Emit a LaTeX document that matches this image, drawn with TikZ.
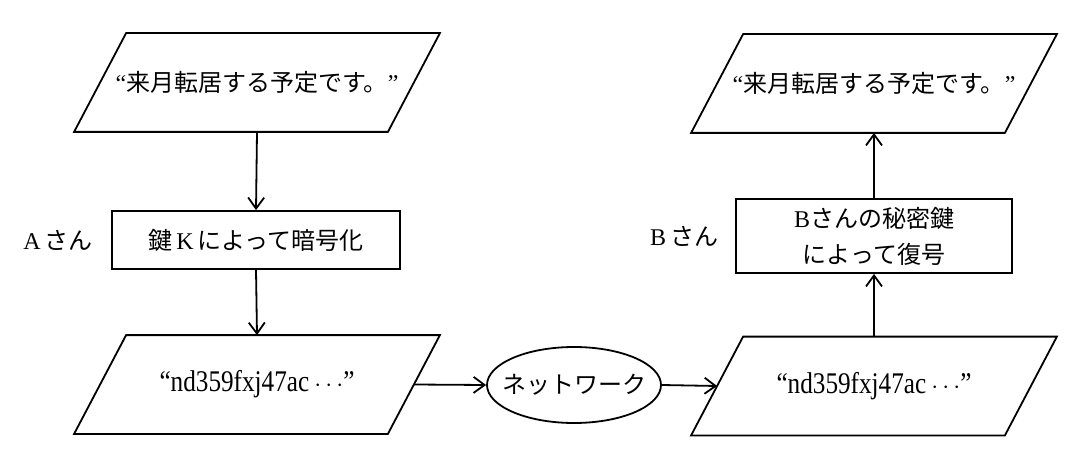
\documentclass[tikz,border=0pt]{standalone}
\usepackage{fontspec}
\setmainfont{Liberation Serif}
\newfontfamily\cjk{Noto Sans CJK JP}
\newfontfamily\narrowserif[FakeStretch=0.84]{Liberation Serif}
\usetikzlibrary{arrows.meta,shapes.geometric}
\begin{document}
\begin{tikzpicture}[x=1pt,y=1pt,
  line width=1.8pt,
  every node/.style={font=\fontsize{24}{38}\selectfont},
  para/.style={minimum width=312pt,minimum height=97pt,inner sep=0pt},
  procbox/.style={draw,inner sep=0pt,align=center},
  arr/.style={-{Straight Barb[length=11pt,width=16pt]}},
  code/.style={font=\narrowserif\fontsize{30}{36}\selectfont}
  ]
\useasboundingbox (0,0) rectangle (1083,458);
% parallelogram text nodes
\node[para] (p1) at (257,375.5) {“{\cjk 来月転居する予定です。}”};
\node[para,code] (p2) at (257,73.5) {“nd359fxj47ac\,$\cdots$”};
\node[para,code] (p3) at (874,72) {“nd359fxj47ac\,$\cdots$”};
\node[para] (p4) at (874,374.5) {“{\cjk 来月転居する予定です。}”};
\foreach \n in {p1,p2,p3,p4}
  \draw ([xshift=26pt]\n.north west) -- ([xshift=26pt]\n.north east)
     -- ([xshift=-26pt]\n.south east) -- ([xshift=-26pt]\n.south west) -- cycle;
% process boxes
\node[procbox,minimum width=288pt,minimum height=58pt] (a) at (256,218) {{\cjk 鍵}\,K\,{\cjk によって暗号化}};
\node[procbox,minimum width=276pt,minimum height=74pt] (b) at (874,222) {B{\cjk さんの秘密鍵}\\[-2pt]{\cjk によって復号}};
% labels
\node (la) at (58,218) {A\,{\cjk さん}};
\node (lb) at (684,222) {B\,{\cjk さん}};
% network
\node[ellipse,draw,minimum width=174pt,minimum height=76pt,inner sep=0pt] (net) at (574,73) {\makebox[0pt]{\cjk ネットワーク}};
% connectors
\draw[arr] (p1.south) -- (a.north);
\draw[arr] (a.south) -- (p2.north);
\draw[arr] (p2.east) -- (net.west);
\draw[arr] (net.east) -- (p3.west);
\draw[arr] (p3.north) -- (b.south);
\draw[arr] (b.north) -- (p4.south);
\end{tikzpicture}
\end{document}
